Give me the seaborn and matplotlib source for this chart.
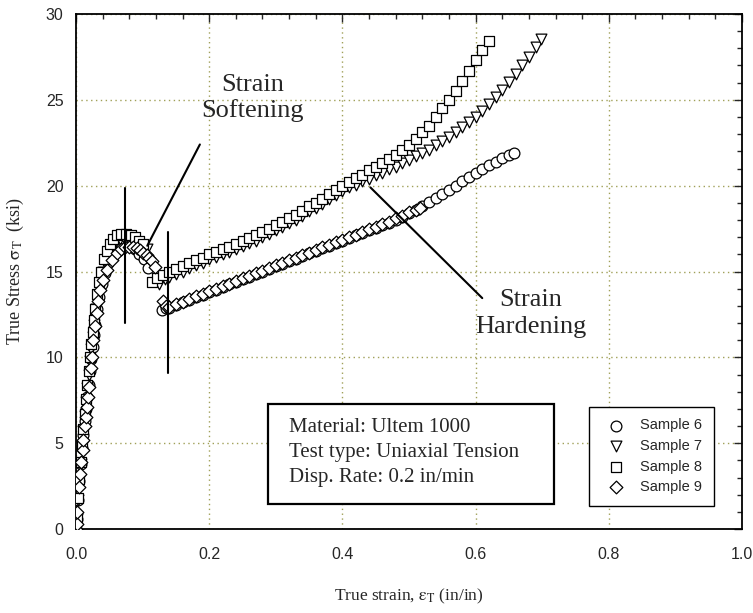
import matplotlib
matplotlib.use("Agg")
import matplotlib.pyplot as plt
import seaborn as sns
import pandas as pd
from matplotlib.ticker import MultipleLocator, FormatStrFormatter
from matplotlib.patches import Rectangle

# ---- measured true stress-strain data (strain in/in, stress ksi) ----
strain_6 = [0.000, 0.001, 0.003, 0.005, 0.007, 0.009, 0.011, 0.013, 0.015, 0.017,
            0.019, 0.021, 0.023, 0.025, 0.027, 0.029, 0.032, 0.035, 0.039, 0.043,
            0.048, 0.054, 0.060, 0.067, 0.074, 0.081, 0.088, 0.095, 0.102, 0.108,
            0.129, 0.135, 0.14, 0.15, 0.16, 0.17, 0.18, 0.19, 0.20, 0.21, 0.22,
            0.23, 0.24, 0.25, 0.26, 0.27, 0.28, 0.29, 0.30, 0.31, 0.32, 0.33, 0.34,
            0.35, 0.36, 0.37, 0.38, 0.39, 0.40, 0.41, 0.42, 0.43, 0.44, 0.45, 0.46,
            0.47, 0.48, 0.49, 0.50, 0.51, 0.52, 0.53, 0.54, 0.55, 0.56, 0.57, 0.58,
            0.59, 0.60, 0.61, 0.62, 0.63, 0.64, 0.65, 0.657]
stress_6 = [0.0, 0.6, 1.7, 2.8, 3.8, 4.7, 5.5, 6.3, 7.0, 7.7,
            8.4, 9.2, 9.9, 10.6, 11.3, 11.9, 12.8, 13.5, 14.3, 14.9,
            15.5, 16.0, 16.3, 16.5, 16.6, 16.5, 16.3, 16.0, 15.7, 15.2,
            12.75, 12.85, 12.9, 13.05, 13.2, 13.35, 13.5, 13.65, 13.8, 13.95, 14.1,
            14.25, 14.4, 14.55, 14.7, 14.85, 15.0, 15.15, 15.3, 15.45, 15.6, 15.75, 15.9,
            16.05, 16.2, 16.35, 16.5, 16.65, 16.8, 16.95, 17.1, 17.25, 17.4, 17.55, 17.7,
            17.85, 18.0, 18.2, 18.4, 18.6, 18.8, 19.05, 19.3, 19.5, 19.75, 20.0, 20.25,
            20.5, 20.75, 21.0, 21.2, 21.4, 21.6, 21.8, 21.9]

strain_7 = [0.000, 0.001, 0.003, 0.005, 0.007, 0.009, 0.011, 0.013, 0.015, 0.017,
            0.019, 0.021, 0.023, 0.025, 0.027, 0.030, 0.033, 0.036, 0.040, 0.044,
            0.049, 0.054, 0.060, 0.066, 0.072, 0.079, 0.086, 0.093, 0.100, 0.106,
            0.125, 0.134, 0.14, 0.15, 0.16, 0.17, 0.18, 0.19, 0.20, 0.21, 0.22,
            0.23, 0.24, 0.25, 0.26, 0.27, 0.28, 0.29, 0.30, 0.31, 0.32, 0.33, 0.34,
            0.35, 0.36, 0.37, 0.38, 0.39, 0.40, 0.41, 0.42, 0.43, 0.44, 0.45, 0.46,
            0.47, 0.48, 0.49, 0.50, 0.51, 0.52, 0.53, 0.54, 0.55, 0.56, 0.57, 0.58,
            0.59, 0.60, 0.61, 0.62, 0.63, 0.64, 0.65, 0.66, 0.67, 0.68, 0.69, 0.698]
stress_7 = [0.0, 0.6, 1.7, 2.8, 3.8, 4.8, 5.7, 6.6, 7.4, 8.2,
            9.0, 9.8, 10.5, 11.2, 11.9, 12.8, 13.6, 14.3, 15.0, 15.6,
            16.1, 16.5, 16.8, 16.9, 16.95, 16.9, 16.8, 16.7, 16.5, 16.3,
            14.3, 14.55, 14.7, 14.85, 15.0, 15.2, 15.35, 15.5, 15.7, 15.85, 16.0,
            16.15, 16.3, 16.5, 16.65, 16.8, 17.0, 17.2, 17.4, 17.6, 17.8, 18.0, 18.25,
            18.5, 18.7, 18.95, 19.2, 19.45, 19.7, 19.9, 20.05, 20.25, 20.4, 20.6, 20.75,
            20.95, 21.1, 21.3, 21.5, 21.7, 21.9, 22.1, 22.35, 22.6, 22.85, 23.1, 23.4,
            23.7, 24.0, 24.35, 24.75, 25.15, 25.6, 26.05, 26.5, 27.0, 27.5, 28.05, 28.55]

strain_8 = [0.000, 0.001, 0.003, 0.005, 0.007, 0.009, 0.011, 0.013, 0.015, 0.017,
            0.019, 0.021, 0.023, 0.025, 0.027, 0.029, 0.032, 0.035, 0.038, 0.042,
            0.046, 0.051, 0.056, 0.062, 0.068, 0.075, 0.082, 0.089, 0.095, 0.101,
            0.114, 0.121, 0.13, 0.14, 0.15, 0.16, 0.17, 0.18, 0.19, 0.20, 0.21, 0.22,
            0.23, 0.24, 0.25, 0.26, 0.27, 0.28, 0.29, 0.30, 0.31, 0.32, 0.33, 0.34,
            0.35, 0.36, 0.37, 0.38, 0.39, 0.40, 0.41, 0.42, 0.43, 0.44, 0.45, 0.46,
            0.47, 0.48, 0.49, 0.50, 0.51, 0.52, 0.53, 0.54, 0.55, 0.56, 0.57, 0.58,
            0.59, 0.60, 0.61, 0.62]
stress_8 = [0.0, 0.7, 1.8, 2.9, 3.9, 4.9, 5.8, 6.7, 7.6, 8.4,
            9.2, 10.0, 10.8, 11.5, 12.2, 12.8, 13.7, 14.4, 15.0, 15.7,
            16.2, 16.6, 16.9, 17.1, 17.2, 17.2, 17.1, 17.0, 16.8, 16.6,
            14.4, 14.6, 14.8, 15.0, 15.15, 15.3, 15.5, 15.65, 15.8, 16.0, 16.15, 16.3,
            16.45, 16.6, 16.8, 16.95, 17.1, 17.3, 17.5, 17.7, 17.9, 18.1, 18.3, 18.55,
            18.8, 19.0, 19.25, 19.5, 19.75, 20.0, 20.2, 20.45, 20.65, 20.9, 21.1, 21.3,
            21.55, 21.8, 22.05, 22.35, 22.7, 23.1, 23.5, 24.0, 24.5, 25.0, 25.5, 26.1,
            26.7, 27.3, 27.9, 28.4]

strain_9 = [0.000, 0.001, 0.002, 0.0045, 0.006, 0.008, 0.010, 0.011, 0.0135, 0.015,
            0.017, 0.0185, 0.020, 0.022, 0.0236, 0.026, 0.0286, 0.031, 0.0335, 0.036,
            0.041, 0.046, 0.054, 0.061, 0.068, 0.074, 0.080, 0.086, 0.091, 0.096,
            0.101, 0.106, 0.110, 0.114, 0.119,
            0.131, 0.135, 0.14, 0.15, 0.16, 0.17, 0.18, 0.19, 0.20, 0.21, 0.22,
            0.23, 0.24, 0.25, 0.26, 0.27, 0.28, 0.29, 0.30, 0.31, 0.32, 0.33, 0.34,
            0.35, 0.36, 0.37, 0.38, 0.39, 0.40, 0.41, 0.42, 0.43, 0.44, 0.45, 0.46,
            0.47, 0.48, 0.49, 0.50, 0.51, 0.517]
stress_9 = [0.0, 0.3, 1.0, 2.45, 3.2, 3.9, 4.6, 5.2, 6.0, 6.5,
            7.1, 7.7, 8.3, 9.4, 10.0, 11.0, 11.8, 12.6, 13.3, 13.9,
            14.5, 15.1, 15.65, 16.05, 16.3, 16.4, 16.45, 16.4, 16.35, 16.25,
            16.1, 15.95, 15.8, 15.6, 15.25,
            13.3, 13.0, 12.95, 13.1, 13.25, 13.4, 13.55, 13.7, 13.85, 14.0, 14.15,
            14.3, 14.45, 14.6, 14.75, 14.9, 15.05, 15.2, 15.35, 15.5, 15.65, 15.8, 15.95,
            16.1, 16.25, 16.4, 16.55, 16.7, 16.85, 17.0, 17.15, 17.3, 17.45, 17.6, 17.75,
            17.9, 18.1, 18.25, 18.45, 18.6, 18.7]

sample_labels = ["Sample 6", "Sample 7", "Sample 8", "Sample 9"]
sample_markers = ["o", "v", "s", "D"]
info_lines = ["Material: Ultem 1000", "Test type: Uniaxial Tension", "Disp. Rate: 0.2 in/min"]
x_ticks = [0.0, 0.2, 0.4, 0.6, 0.8, 1.0]
y_ticks = [0, 5, 10, 15, 20, 25, 30]

frames = []
for lab, e, s in zip(sample_labels, [strain_6, strain_7, strain_8, strain_9],
                     [stress_6, stress_7, stress_8, stress_9]):
    frames.append(pd.DataFrame({"strain": e, "stress": s, "sample": lab}))
df = pd.concat(frames, ignore_index=True)

sns.set_style("white")
plt.rcParams["font.family"] = ["Liberation Sans", "DejaVu Sans"]
plt.rcParams["mathtext.fontset"] = "stix"

fig = plt.figure(figsize=(7.53, 6.13), dpi=100)
ax = fig.add_axes([76 / 753, 84 / 613, 666 / 753, 515 / 613])

marker_sizes = {"o": 60, "v": 60, "s": 55, "D": 42}
for lab, mk in zip(sample_labels, sample_markers):
    sub = df[df["sample"] == lab]
    sns.scatterplot(data=sub, x="strain", y="stress", marker=mk, s=marker_sizes[mk],
                    facecolor="white", edgecolor="black", linewidth=0.9,
                    label=lab, ax=ax, zorder=3)

ax.set_xlim(0, 1.0)
ax.set_ylim(0, 30)
ax.set_xticks(x_ticks)
ax.set_yticks(y_ticks)
ax.xaxis.set_major_formatter(FormatStrFormatter("%.1f"))
ax.xaxis.set_minor_locator(MultipleLocator(0.04))
ax.yaxis.set_minor_locator(MultipleLocator(1))
ax.tick_params(which="both", direction="in", top=True, right=True, width=1.0)
ax.tick_params(which="major", length=6)
ax.tick_params(which="minor", length=3.5)
ax.tick_params(axis="x", which="major", pad=13, labelsize=11.5)
ax.tick_params(axis="y", which="major", pad=9, labelsize=11.5)
for sp in ax.spines.values():
    sp.set_linewidth(1.3)
    sp.set_color("black")

ax.grid(True, which="major", color="#a0a058", linestyle=(0, (1, 2.5)), linewidth=1.0)
ax.set_axisbelow(True)

serif = ["Liberation Serif", "DejaVu Serif"]
ax.set_xlabel(r"True strain, $\mathrm{\varepsilon_T}$ (in/in)", family=serif,
              fontsize=12.5, labelpad=18)
ax.set_ylabel(r"True Stress $\mathrm{\sigma_T}$  (ksi)", family=serif,
              fontsize=13, labelpad=14)

# yield-region markers and callout lines
ax.plot([0.074, 0.074], [12.0, 19.85], color="black", lw=1.5, zorder=4)
ax.plot([0.138, 0.138], [9.1, 17.3], color="black", lw=1.5, zorder=4)
ax.plot([0.107, 0.186], [16.5, 22.4], color="black", lw=1.5, zorder=4)
ax.plot([0.442, 0.610], [19.9, 13.45], color="black", lw=1.5, zorder=4)

ax.text(0.265, 25.1, "Strain\nSoftening", family=serif, fontsize=19,
        ha="center", va="center", multialignment="center", linespacing=1.15, zorder=5)
ax.text(0.683, 12.55, "Strain\nHardening", family=serif, fontsize=19,
        ha="center", va="center", multialignment="center", linespacing=1.25, zorder=5)

# test-condition box
ax.add_patch(Rectangle((0.288, 0.0485), 0.430, 0.194, transform=ax.transAxes,
                       facecolor="white", edgecolor="black", lw=1.6, zorder=5))
for i, line in enumerate(info_lines):
    ax.text(0.32, 0.197 - i * 0.0485, line, transform=ax.transAxes, family=serif,
            fontsize=15, ha="left", va="center", zorder=6)

leg = ax.legend(loc="lower right", bbox_to_anchor=(0.958, 0.045), frameon=True,
                fancybox=False, edgecolor="black", framealpha=1, fontsize=10.5,
                labelspacing=0.45, handletextpad=0.7, borderpad=0.8,
                borderaxespad=0, handlelength=2.0)
leg.get_frame().set_linewidth(1.0)
leg.set_zorder(7)

fig.savefig("out.png", dpi=100)
